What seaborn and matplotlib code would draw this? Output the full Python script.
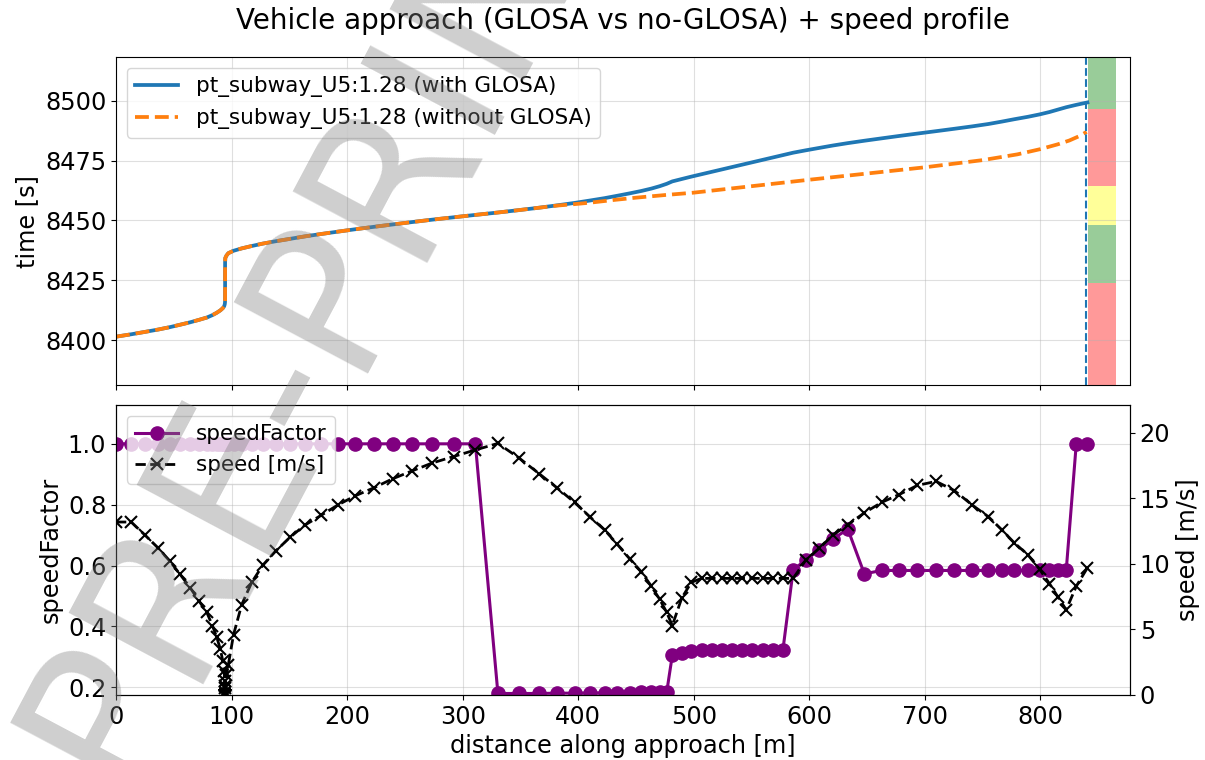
import matplotlib
matplotlib.use("Agg")
import matplotlib.pyplot as plt
import seaborn as sns

# ---------------- data ----------------
# top panel: time vs distance (vehicle pt_subway_U5:1.28)
with_glosa_dist = [0, 13.2, 25.1, 36.7, 46.8, 55.5, 64.1, 71.6, 78.6, 83.4, 87.2, 90.3, 92.4, 93.6,
                   94.1, 94.3, 94.4, 94.4, 94.6, 95.6, 97.2, 101.7, 108.8, 117.5, 127.0, 138.3, 150.8,
                   163.2, 177.3, 192.0, 207.0, 222.9, 239.4, 256.2, 273.5, 292.2, 311.0, 330.5, 348.6,
                   366.0, 381.8, 396.8, 410.0, 422.8, 433.8, 444.5, 454.6, 463.3, 470.5, 476.6, 481.4,
                   489.6, 497.9, 541.9, 586.0, 597.0, 608.6, 620.3, 633.3, 647.6, 662.6, 677.8, 693.6,
                   709.7, 725.5, 740.9, 755.0, 766.6, 777.5, 789.1, 799.2, 807.8, 815.0, 822.3, 831.0, 840.6]
with_glosa_time = [8401.4, 8402.4, 8403.4, 8404.4, 8405.4, 8406.4, 8407.4, 8408.4, 8409.4, 8410.4, 8411.4,
                   8412.4, 8413.3, 8414.1, 8414.9, 8415.6, 8416.4, 8432.4, 8434.3, 8435.3, 8436.3, 8437.3,
                   8438.3, 8439.3, 8440.3, 8441.3, 8442.3, 8443.3, 8444.3, 8445.3, 8446.3, 8447.3, 8448.3,
                   8449.3, 8450.3, 8451.3, 8452.3, 8453.3, 8454.3, 8455.3, 8456.3, 8457.3, 8458.3, 8459.3,
                   8460.3, 8461.3, 8462.3, 8463.3, 8464.3, 8465.3, 8466.3, 8467.3, 8468.3, 8473.3, 8478.3,
                   8479.3, 8480.3, 8481.3, 8482.3, 8483.3, 8484.3, 8485.3, 8486.3, 8487.3, 8488.3, 8489.3,
                   8490.3, 8491.3, 8492.3, 8493.3, 8494.3, 8495.3, 8496.3, 8497.3, 8498.3, 8499.3]

without_glosa_dist = [0, 13.2, 25.1, 36.7, 46.8, 55.5, 64.1, 71.6, 78.6, 83.4, 87.2, 90.3, 92.4, 93.6,
                      94.1, 94.3, 94.4, 94.4, 94.6, 95.6, 97.2, 101.7, 108.8, 117.5, 127.0, 138.3, 150.8,
                      163.2, 177.3, 192.0, 207.0, 222.9, 239.4, 256.2, 273.5, 292.2, 311.0, 330.5, 348.6,
                      366.0, 381.8, 396.8, 410.0, 430.0, 450.0, 475.0, 500.0, 550.0, 600.0, 650.0, 700.0,
                      750.0, 780.0, 800.0, 815.0, 825.0, 833.0, 840.0]
without_glosa_time = [8401.4, 8402.4, 8403.4, 8404.4, 8405.4, 8406.4, 8407.4, 8408.4, 8409.4, 8410.4, 8411.4,
                      8412.4, 8413.3, 8414.1, 8414.9, 8415.6, 8416.4, 8432.4, 8434.3, 8435.3, 8436.3, 8437.3,
                      8438.3, 8439.3, 8440.3, 8441.3, 8442.3, 8443.3, 8444.3, 8445.3, 8446.3, 8447.3, 8448.3,
                      8449.3, 8450.3, 8451.3, 8452.3, 8453.3, 8454.3, 8455.3, 8456.2, 8456.8, 8457.4, 8458.5,
                      8459.5, 8460.6, 8461.6, 8464.3, 8467.0, 8469.6, 8472.2, 8475.2, 8477.6, 8479.8, 8481.8,
                      8483.4, 8485.1, 8487.0]

# signal program at the stop line
stop_line_m = 839.5
signal_bar_left = 841.0
signal_bar_width = 24.0
signal_phase_start = [8360.0, 8423.8, 8447.9, 8464.2, 8496.7]
signal_phase_end = [8423.8, 8447.9, 8464.2, 8496.7, 8530.0]
signal_phase_color = ["red", "green", "yellow", "red", "green"]

# bottom panel: speed profile (GLOSA run)
profile_dist = [0.0, 13.2, 25.1, 36.7, 46.8, 55.5, 64.1, 71.6, 78.6, 83.4, 87.2, 90.3, 92.4, 93.6, 94.1,
                94.3, 94.4,
                94.4, 94.4, 94.4, 94.4, 94.4, 94.4, 94.4, 94.4, 94.4, 94.4, 94.4, 94.4, 94.4, 94.4, 94.4, 94.4,
                94.6, 95.6, 97.2, 101.7, 108.8, 117.5, 127.0, 138.3, 150.8, 163.2, 177.3, 192.0, 207.0,
                222.9, 239.4, 256.2, 273.5, 292.2, 311.0, 330.5, 348.6, 366.0, 381.8, 396.8, 410.0, 422.8,
                433.8, 444.5, 454.6, 463.3, 470.5, 476.6, 481.4, 489.6, 497.9, 506.7, 515.5, 524.3, 533.1,
                541.9, 550.7, 559.5, 568.3, 577.1, 586.0, 597.0, 608.6, 620.3, 633.3, 647.6, 662.6, 677.8,
                693.6, 709.7, 725.5, 740.9, 755.0, 766.6, 777.5, 789.1, 799.2, 807.8, 815.0, 822.3, 831.0, 840.6]
profile_speed = [13.2, 13.2, 12.2, 11.2, 10.2, 9.2, 8.2, 7.2, 6.3, 5.3, 4.4, 3.5, 2.6, 1.8, 1.1,
                 0.5, 0.2,
                 0.0, 0.0, 0.0, 0.0, 0.0, 0.0, 0.0, 0.0, 0.0, 0.0, 0.0, 0.0, 0.0, 0.0, 0.0, 0.0,
                 0.7, 1.5, 2.3, 4.6, 6.9, 8.6, 9.9, 11.0, 12.05, 12.95, 13.7, 14.5, 15.2,
                 15.8, 16.5, 17.1, 17.7, 18.2, 18.7, 19.2, 18.1, 16.9, 15.8, 14.7, 13.6, 12.6,
                 11.5, 10.4, 9.4, 8.3, 7.3, 6.3, 5.3, 7.4, 8.6, 8.9, 8.9, 8.9, 8.9,
                 8.9, 8.9, 8.9, 8.9, 8.9, 8.9, 10.3, 11.2, 12.2, 13.0, 13.9, 14.7, 15.3,
                 16.0, 16.3, 15.6, 14.5, 13.6, 12.6, 11.6, 10.7, 9.6, 8.5, 7.5, 6.5, 8.3, 9.7]
profile_speed_factor = [1.0, 1.0, 1.0, 1.0, 1.0, 1.0, 1.0, 1.0, 1.0, 1.0, 1.0, 1.0, 1.0, 1.0, 1.0,
                        1.0, 1.0,
                        1.0, 1.0, 1.0, 1.0, 1.0, 1.0, 1.0, 1.0, 1.0, 1.0, 1.0, 1.0, 1.0, 1.0, 1.0, 1.0,
                        1.0, 1.0, 1.0, 1.0, 1.0, 1.0, 1.0, 1.0, 1.0, 1.0, 1.0, 1.0, 1.0,
                        1.0, 1.0, 1.0, 1.0, 1.0, 1.0, 0.180, 0.180, 0.180, 0.181, 0.181, 0.182, 0.182,
                        0.183, 0.183, 0.184, 0.184, 0.185, 0.185, 0.305, 0.313, 0.320, 0.322, 0.322, 0.322, 0.322,
                        0.322, 0.322, 0.322, 0.322, 0.322, 0.585, 0.620, 0.651, 0.687, 0.720, 0.573, 0.584, 0.584,
                        0.584, 0.584, 0.584, 0.584, 0.584, 0.584, 0.584, 0.584, 0.584, 0.584, 0.584, 0.584, 1.0, 1.0]

time_ticks = [8400, 8425, 8450, 8475, 8500]
dist_ticks = [0, 100, 200, 300, 400, 500, 600, 700, 800]
sf_ticks = [0.2, 0.4, 0.6, 0.8, 1.0]
speed_ticks = [0, 5, 10, 15, 20]

# ---------------- style ----------------
plt.rcParams["font.family"] = ["DejaVu Sans"]
plt.rcParams["xtick.labelsize"] = 17.3
plt.rcParams["ytick.labelsize"] = 17.3
plt.rcParams["axes.labelsize"] = 17.3

W, H = 1205, 760
fig = plt.figure(figsize=(W / 100, H / 100), dpi=100)
L, R = 116, 1130
ax_t = fig.add_axes([L / W, 1 - 385 / H, (R - L) / W, (385 - 57) / H])
ax_sf = fig.add_axes([L / W, 1 - 695 / H, (R - L) / W, (695 - 405) / H], sharex=ax_t)
ax_sp = ax_sf.twinx()

# ---------------- top panel ----------------
sns.lineplot(x=with_glosa_dist, y=with_glosa_time, ax=ax_t, estimator=None, sort=False,
             color="#1f77b4", linewidth=2.7, label="pt_subway_U5:1.28 (with GLOSA)")
sns.lineplot(x=without_glosa_dist, y=without_glosa_time, ax=ax_t, estimator=None, sort=False,
             color="#ff7f0e", linewidth=2.7, linestyle="--", label="pt_subway_U5:1.28 (without GLOSA)")
ax_t.axvline(stop_line_m, color="#1f77b4", linestyle="--", linewidth=1.5)
for s, e, c in zip(signal_phase_start, signal_phase_end, signal_phase_color):
    ax_t.bar(signal_bar_left, e - s, width=signal_bar_width, bottom=s, align="edge",
             color=c, alpha=0.4, linewidth=0)

ax_t.set_xlim(0, 877.5)
ax_t.set_ylim(8381.2, 8518.3)
ax_t.set_yticks(time_ticks)
ax_t.set_xticks(dist_ticks)
ax_t.tick_params(labelbottom=False)
ax_t.grid(True, alpha=0.4)
ax_t.set_ylabel("time [s]")
ax_t.set_xlabel("")
ax_t.set_title("Vehicle approach (GLOSA vs no-GLOSA) + speed profile", fontsize=20, pad=20)

# ---------------- bottom panel ----------------
sns.lineplot(x=profile_dist, y=profile_speed_factor, ax=ax_sf, estimator=None, sort=False,
             color="purple", linewidth=2.2, marker="o", markersize=9.5,
             markeredgecolor="purple", markeredgewidth=1, label="speedFactor")
sns.lineplot(x=profile_dist, y=profile_speed, ax=ax_sp, estimator=None, sort=False,
             color="black", linewidth=2, linestyle="--", marker="x", markersize=9,
             markeredgecolor="black", markeredgewidth=1.5, label="speed [m/s]")

ax_sf.set_ylim(0.175, 1.1275)
ax_sp.set_ylim(0, 22.13)
ax_sf.set_yticks(sf_ticks)
ax_sp.set_yticks(speed_ticks)
ax_sf.set_xticks(dist_ticks)
ax_sf.set_xlim(0, 877.5)
ax_sf.grid(True, alpha=0.4)
ax_sp.grid(False)
ax_sf.set_ylabel("speedFactor")
ax_sp.set_ylabel("speed [m/s]")
ax_sf.set_xlabel("distance along approach [m]")

for a in (ax_t, ax_sf, ax_sp):
    lg = a.get_legend()
    if lg is not None:
        lg.remove()

ax_t.legend(loc="upper left", fontsize=15.5)
h1, l1 = ax_sf.get_legend_handles_labels()
h2, l2 = ax_sp.get_legend_handles_labels()
ax_sp.legend(h1 + h2, l1 + l2, loc="upper left", fontsize=15.5)

# watermark
fig.text(380 / W, 1 - 312 / H, "PRE-PRINT", rotation=62, rotation_mode="anchor",
         ha="center", va="baseline", fontsize=150, color="gray", alpha=0.38, zorder=10)

fig.savefig("out.png", dpi=100)
